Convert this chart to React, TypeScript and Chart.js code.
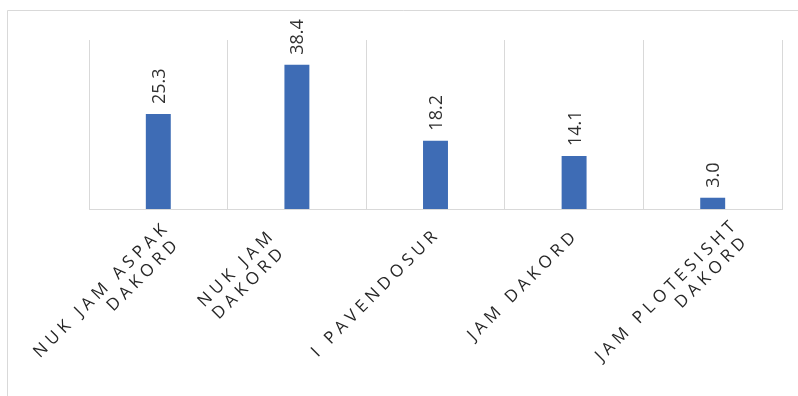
import React, { useEffect, useRef } from "react";
import { Chart, registerables } from "chart.js";

Chart.register(...registerables);

// ---- data ----
const categoryLines: string[][] = [
  ["NUK JAM ASPAK", "DAKORD"],
  ["NUK JAM", "DAKORD"],
  ["I PAVENDOSUR"],
  ["JAM DAKORD"],
  ["JAM PLOTESISHT", "DAKORD"],
];
const values: number[] = [25.3, 38.4, 18.2, 14.1, 3.0];
const yMin = 0;
const yMax = 45;

const FONT = '"Open Sans", "Liberation Sans", sans-serif';
const BAR_COLOR = "#3E6CB5";
const GRID_COLOR = "#d9d9d9";
const TEXT_COLOR = "#303030";

export default function App() {
  const ref = useRef<HTMLCanvasElement | null>(null);

  useEffect(() => {
    document.body.style.margin = "0";
    const canvas = ref.current;
    if (!canvas) return;

    // per-label placement tweaks (layout only): [dx from tick, dy below axis]
    const labelNudge: number[][] = [
      [4, 10],
      [-29, 18],
      [-3, 17],
      [-3, 18],
      [18, 7],
    ];
    const xFontSize = 17;
    const xSpacing = 4.5;
    const xLineGap = 19;

    const framePlugin = {
      id: "frame",
      beforeDraw(chart: any) {
        const ctx = chart.ctx as CanvasRenderingContext2D;
        ctx.save();
        ctx.fillStyle = "#ffffff";
        ctx.fillRect(0, 0, chart.width, chart.height);
        ctx.strokeStyle = GRID_COLOR;
        ctx.lineWidth = 1;
        ctx.beginPath();
        ctx.moveTo(7.5, chart.height + 5);
        ctx.lineTo(7.5, 10.5);
        ctx.lineTo(chart.width + 5, 10.5);
        ctx.stroke();
        ctx.restore();
      },
    };

    const labelsPlugin = {
      id: "customLabels",
      afterDraw(chart: any) {
        const ctx = chart.ctx as CanvasRenderingContext2D;
        const xScale = chart.scales.x;
        const axisY = chart.chartArea.bottom;
        // data labels
        const meta = chart.getDatasetMeta(0);
        ctx.save();
        ctx.fillStyle = TEXT_COLOR;
        ctx.font = `18px ${FONT}`;
        (ctx as any).letterSpacing = "0px";
        meta.data.forEach((el: any, i: number) => {
          ctx.save();
          ctx.translate(el.x, el.y - 10);
          ctx.rotate(-Math.PI / 2);
          ctx.textAlign = "left";
          ctx.textBaseline = "alphabetic";
          ctx.fillText(values[i].toFixed(1), 0, 18 * 0.36);
          ctx.restore();
        });
        ctx.restore();

        // category labels
        ctx.save();
        ctx.fillStyle = "#262626";
        ctx.font = `${xFontSize}px ${FONT}`;
        (ctx as any).letterSpacing = `${xSpacing}px`;
        const capH = xFontSize * 0.714;
        categoryLines.forEach((lines, i) => {
          const tx = xScale.getPixelForValue(i);
          const [dx, dy] = labelNudge[i];
          ctx.save();
          ctx.translate(tx + dx, axisY + dy);
          ctx.rotate(-Math.PI / 4);
          ctx.textAlign = "right";
          ctx.textBaseline = "alphabetic";
          lines.forEach((line, j) => {
            ctx.fillText(line, -j * 4, capH + j * xLineGap);
          });
          ctx.restore();
        });
        ctx.restore();
      },
    };

    const chart = new Chart(canvas, {
      type: "bar",
      data: {
        labels: categoryLines.map((l) => l.join(" ")),
        datasets: [
          {
            data: values,
            backgroundColor: BAR_COLOR,
            barPercentage: 0.18,
            categoryPercentage: 1,
          },
        ],
      },
      options: {
        responsive: false,
        animation: false,
        layout: { padding: { left: 89, right: 16, top: 40, bottom: 187 } },
        plugins: {
          legend: { display: false },
          tooltip: { enabled: false },
        },
        scales: {
          x: {
            grid: { color: GRID_COLOR, offset: true, drawTicks: false, lineWidth: 1 },
            border: { color: GRID_COLOR, width: 1 },
            ticks: { display: false },
          },
          y: { display: false, min: yMin, max: yMax },
        },
      },
      plugins: [framePlugin, labelsPlugin],
    });

    return () => chart.destroy();
  }, []);

  return <canvas ref={ref} width={798} height={396} style={{ display: "block" }} />;
}
